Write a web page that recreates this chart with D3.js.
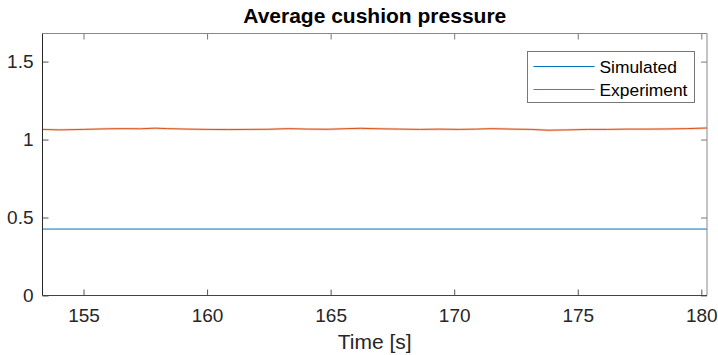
<!DOCTYPE html>
<html lang="en">
<head>
  <meta charset="UTF-8">
  <title>Average cushion pressure</title>
  <script src="https://d3js.org/d3.v7.min.js"></script>
  <style>
    body { margin: 0; padding: 0; background: #fff; font-family: "Liberation Sans", Arial, sans-serif; }
    svg { display: block; }
    .tick text { fill: #262626; }
  </style>
</head>
<body>
  <svg id="chart" width="718" height="355"></svg>

  <script>
    // data
    const xTicks = [155, 160, 165, 170, 175, 180];
    const yTicks = [0, 0.5, 1, 1.5];
    const simTime = [153.34, 180.23];
    const simValue = [0.426, 0.426];
    const expTime = [153.34, 154, 155, 156, 156.6, 157.3, 157.9, 158.4, 159.2, 160, 160.9, 161.7,
                     162.5, 163.3, 164.1, 164.9, 165.7, 166.2, 167, 167.8, 168.6, 169.4, 170.2,
                     170.9, 171.5, 172.3, 173.1, 173.8, 174.6, 175.4, 176.2, 177, 177.8, 178.6,
                     179.4, 180.23];
    const expValue = [1.065, 1.062, 1.065, 1.069, 1.070, 1.069, 1.073, 1.070, 1.067, 1.065, 1.064, 1.065,
                      1.066, 1.070, 1.067, 1.066, 1.070, 1.072, 1.069, 1.067, 1.065, 1.067, 1.065,
                      1.067, 1.070, 1.067, 1.065, 1.060, 1.062, 1.065, 1.065, 1.067, 1.067, 1.068,
                      1.070, 1.074];
    const seriesNames = ["Simulated", "Experiment"];
    const seriesColors = ["#0072BD", "#D95319"];

    const margin = {top: 33.5, right: 11, bottom: 59.5, left: 42.5},
          W = 718, H = 355,
          width = W - margin.left - margin.right,
          height = H - margin.top - margin.bottom;

    const svg = d3.select("#chart");
    const g = svg.append("g").attr("transform", `translate(${margin.left},${margin.top})`);

    const x = d3.scaleLinear().domain([153.34, 180.23]).range([0, width]);
    const y = d3.scaleLinear().domain([0, 1.68]).range([height, 0]);

    const tickLen = 6;
    const axisFont = "19px";

    // x axis (ticks inward)
    const xa = g.append("g").attr("transform", `translate(0,${height})`)
      .call(d3.axisBottom(x).tickValues(xTicks).tickSizeInner(-tickLen).tickSizeOuter(0).tickPadding(13));
    xa.select(".domain").remove();
    xa.selectAll("line").attr("stroke", "#555");
    xa.selectAll("text").style("font-size", axisFont).style("font-family", "Liberation Sans, Arial, sans-serif");

    const ya = g.append("g")
      .call(d3.axisLeft(y).tickValues(yTicks).tickFormat(d3.format("")).tickSizeInner(-tickLen).tickSizeOuter(0).tickPadding(9));
    ya.select(".domain").remove();
    ya.selectAll("line").attr("stroke", "#555");
    ya.selectAll("text").style("font-size", axisFont).style("font-family", "Liberation Sans, Arial, sans-serif");

    // mirrored ticks top and right
    g.append("g")
      .call(d3.axisTop(x).tickValues(xTicks).tickSizeInner(-tickLen).tickSizeOuter(0).tickFormat(""))
      .call(s => s.select(".domain").remove())
      .selectAll("line").attr("stroke", "#777");
    g.append("g").attr("transform", `translate(${width},0)`)
      .call(d3.axisRight(y).tickValues(yTicks).tickSizeInner(-tickLen).tickSizeOuter(0).tickFormat(""))
      .call(s => s.select(".domain").remove())
      .selectAll("line").attr("stroke", "#777");

    // data lines
    const line = d3.line().x(d => x(d[0])).y(d => y(d[1]));
    const simData = simTime.map((t, i) => [t, simValue[i]]);
    const expData = expTime.map((t, i) => [t, expValue[i]]);

    g.append("path").datum(expData)
      .attr("fill", "none").attr("stroke", "#D95319").attr("stroke-opacity", 0.25)
      .attr("stroke-width", 2.4).attr("d", line);
    g.append("path").datum(expData)
      .attr("fill", "none").attr("stroke", seriesColors[1]).attr("stroke-width", 1).attr("d", line);
    g.append("path").datum(simData)
      .attr("fill", "none").attr("stroke", seriesColors[0]).attr("stroke-width", 1).attr("d", line);

    // box
    g.append("line").attr("x1", 0).attr("x2", width).attr("y1", 0).attr("y2", 0).attr("stroke", "#888");
    g.append("line").attr("x1", width).attr("x2", width).attr("y1", 0).attr("y2", height).attr("stroke", "#888");
    g.append("line").attr("x1", 0).attr("x2", width).attr("y1", height).attr("y2", height).attr("stroke", "#444");
    g.append("line").attr("x1", 0).attr("x2", 0).attr("y1", 0).attr("y2", height).attr("stroke", "#262626");

    // title and x label
    svg.append("text")
      .attr("x", margin.left + width / 2).attr("y", 23)
      .attr("text-anchor", "middle")
      .style("font-size", "21px").style("font-weight", "bold").attr("fill", "#000")
      .text("Average cushion pressure");
    svg.append("text")
      .attr("x", margin.left + width / 2).attr("y", 349)
      .attr("text-anchor", "middle")
      .style("font-size", "21px").attr("fill", "#262626")
      .text("Time [s]");

    // legend
    const lg = svg.append("g").attr("transform", "translate(527.5,51.5)");
    lg.append("rect").attr("width", 167).attr("height", 51)
      .attr("fill", "#fff").attr("stroke", "#777");
    seriesNames.forEach((name, i) => {
      const cy = 15 + i * 23;
      lg.append("line").attr("x1", 6).attr("x2", 67).attr("y1", cy).attr("y2", cy)
        .attr("stroke", seriesColors[i]).attr("stroke-width", 1);
      lg.append("text").attr("x", 72).attr("y", cy + 6)
        .style("font-size", "17.4px").attr("fill", "#000").text(name);
    });
  </script>
</body>
</html>
